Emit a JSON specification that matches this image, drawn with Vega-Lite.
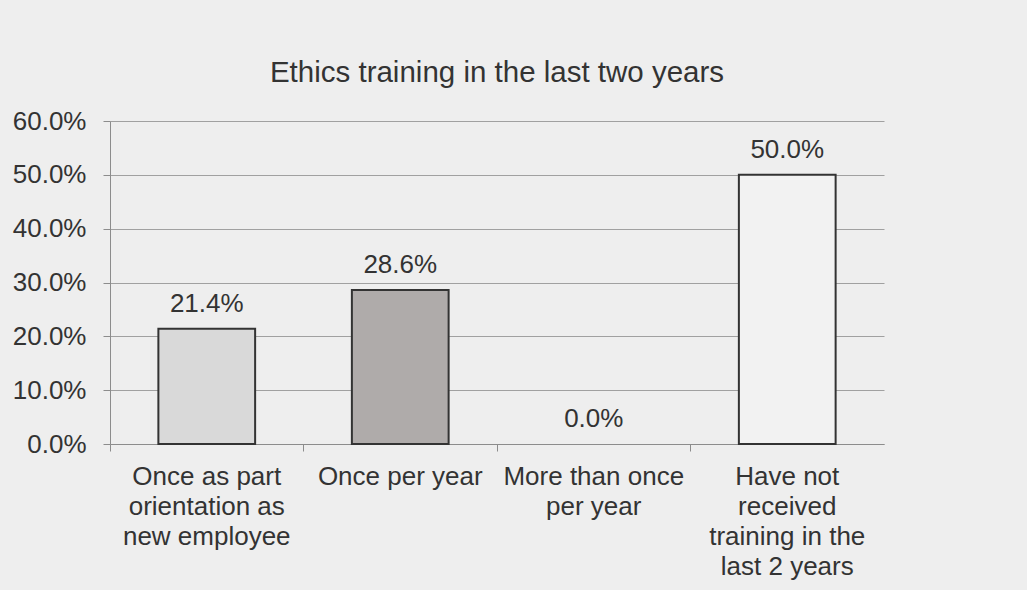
{
  "$schema": "https://vega.github.io/schema/vega-lite/v6.json",
  "width": 774,
  "height": 323,
  "autosize": {"type": "none"},
  "padding": {"left": 110, "top": 121, "right": 143, "bottom": 146},
  "background": "#eeeeee",
  "title": {
    "text": "Ethics training in the last two years",
    "font": "Liberation Sans",
    "fontSize": 29.5,
    "fontWeight": "normal",
    "color": "#333333",
    "anchor": "middle",
    "baseline": "alphabetic",
    "offset": -3
  },
  "config": {
    "view": {"stroke": null},
    "font": "Liberation Sans"
  },
  "data": {
    "values": [
      {"category": "Once as part orientation as new employee", "share": 0.214},
      {"category": "Once per year", "share": 0.286},
      {"category": "More than once per year", "share": 0.0},
      {"category": "Have not received training in the last 2 years", "share": 0.5}
    ]
  },
  "encoding": {
    "x": {
      "field": "category",
      "type": "nominal",
      "sort": null,
      "scale": {"paddingInner": 0, "paddingOuter": 0},
      "axis": {
        "title": null,
        "labelAngle": 0,
        "labelFont": "Liberation Sans",
        "labelFontSize": 26,
        "labelColor": "#333333",
        "labelLineHeight": 30,
        "labelBaseline": "top",
        "labelPadding": 12,
        "labelLimit": 300,
        "domainColor": "#8c8c8c",
        "tickColor": "#8c8c8c",
        "tickSize": 7,
        "bandPosition": 0,
        "grid": false,
        "labelExpr": "datum.value == 'Once as part orientation as new employee' ? ['Once as part', 'orientation as', 'new employee'] : datum.value == 'More than once per year' ? ['More than once', 'per year'] : datum.value == 'Have not received training in the last 2 years' ? ['Have not', 'received', 'training in the', 'last 2 years'] : datum.value"
      }
    },
    "y": {
      "field": "share",
      "type": "quantitative",
      "scale": {"domain": [0, 0.6], "nice": false},
      "axis": {
        "title": null,
        "format": ".1%",
        "values": [0, 0.1, 0.2, 0.3, 0.4, 0.5, 0.6],
        "labelFont": "Liberation Sans",
        "labelFontSize": 26,
        "labelColor": "#333333",
        "labelPadding": 17,
        "tickSize": 7,
        "tickColor": "#8c8c8c",
        "domainColor": "#8c8c8c",
        "gridColor": "#a0a0a0",
        "grid": true
      }
    }
  },
  "layer": [
    {
      "mark": {"type": "bar", "width": {"band": 0.5}, "stroke": "#333333", "strokeWidth": 2},
      "encoding": {
        "color": {
          "field": "category",
          "type": "nominal",
          "legend": null,
          "scale": {
            "domain": ["Once as part orientation as new employee", "Once per year", "More than once per year", "Have not received training in the last 2 years"],
            "range": ["#d9d9d9", "#afabaa", "#eeeeee", "#f2f2f2"]
          }
        },
        "strokeOpacity": {"condition": {"test": "datum.share == 0", "value": 0}, "value": 1}
      }
    },
    {
      "mark": {"type": "text", "font": "Liberation Sans", "fontSize": 26, "color": "#333333", "baseline": "alphabetic", "dy": -17},
      "encoding": {
        "text": {"field": "share", "type": "quantitative", "format": ".1%"}
      }
    }
  ]
}
